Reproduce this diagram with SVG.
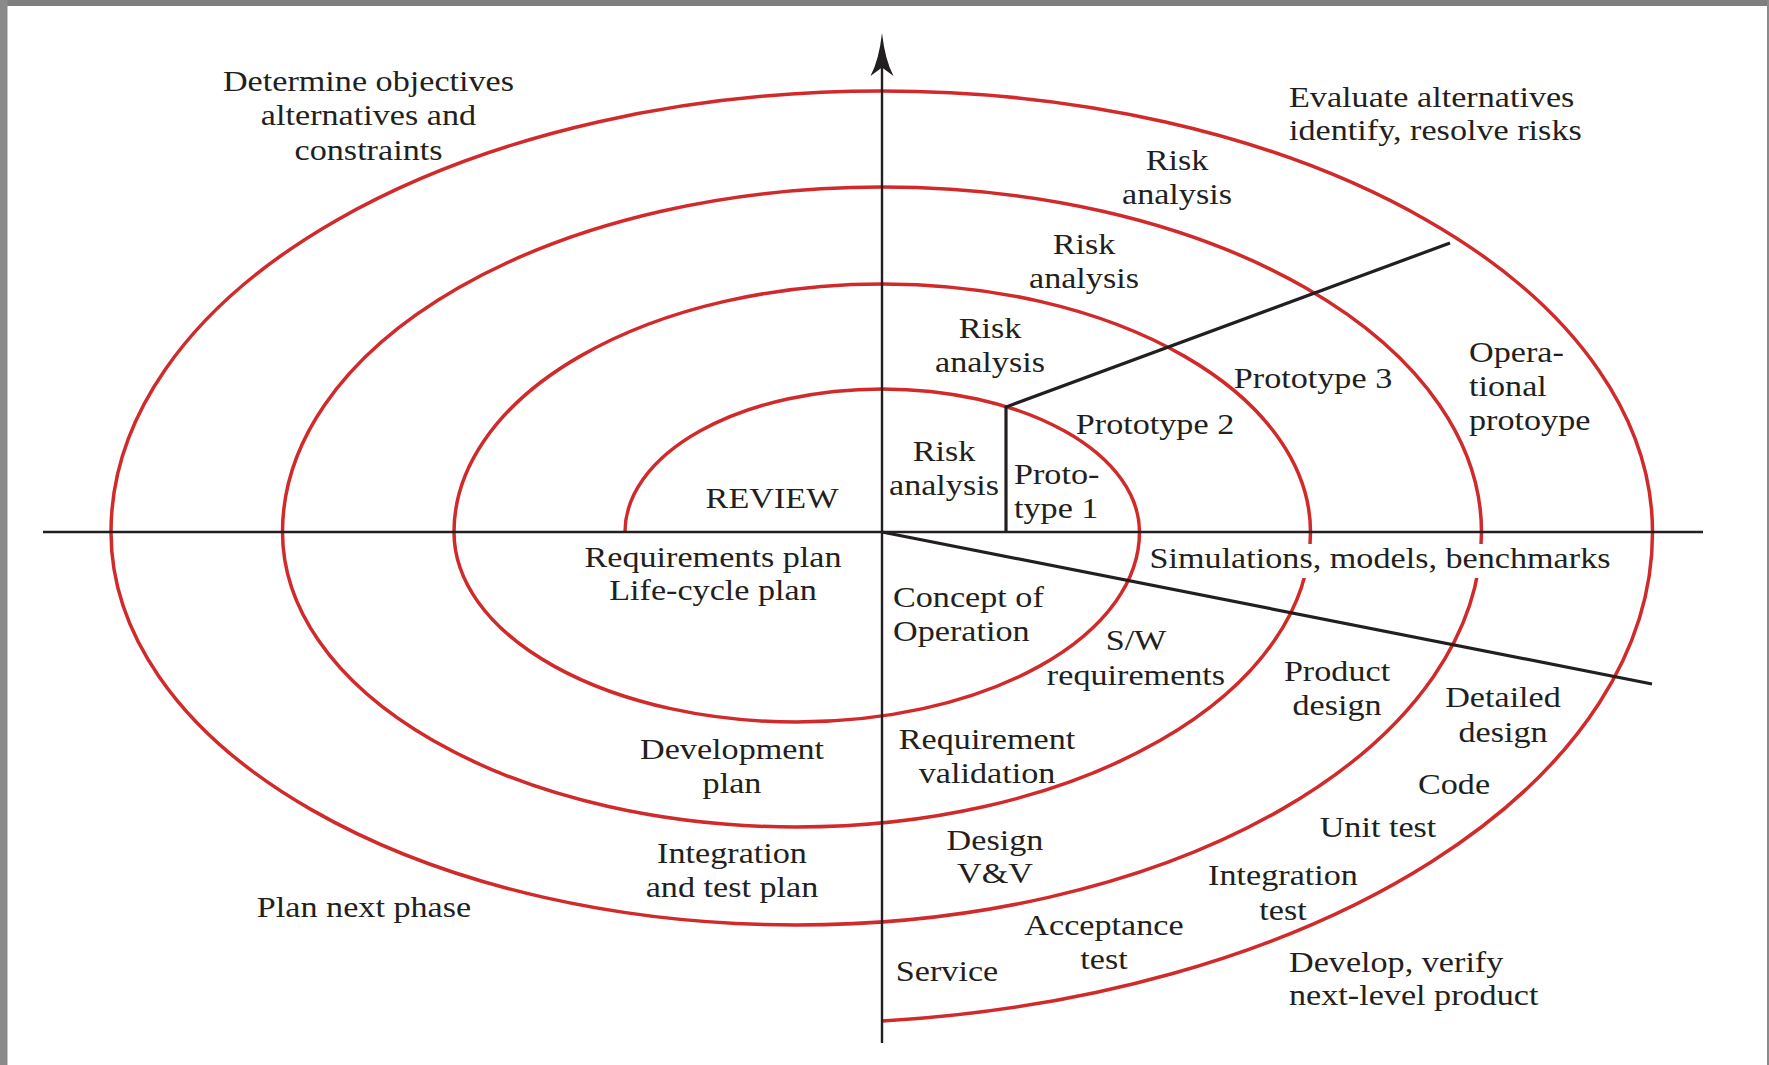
<svg xmlns="http://www.w3.org/2000/svg" width="1769" height="1065" viewBox="0 0 1769 1065">
<style>
text{font-family:"Liberation Serif","Times New Roman",serif;font-size:30.5px;fill:#231f20}
.m{text-anchor:middle}
.s{text-anchor:start}
.spiral{fill:none;stroke:#d12a2b;stroke-width:3.5}
.axis{fill:none;stroke:#231f20;stroke-width:2.4}
.div{fill:none;stroke:#231f20;stroke-width:3.2}
</style>
<rect x="0" y="0" width="1769" height="1065" fill="#ffffff"/>
<g id="frame">
<rect x="0" y="0" width="1769" height="6" fill="#7e7e7e"/>
<rect x="0" y="0" width="7.5" height="1065" fill="#8a8a8a"/>
<rect x="1767" y="0" width="2" height="1065" fill="#8a8a8a"/>
</g>
<g id="connectors">
<path id="spiral" class="spiral" d="M625,532 A257,143 0 0 1 1139.5,532 A342.75,190 0 0 1 454,532 A428.25,248 0 0 1 1310.5,532 A514,295 0 0 1 282.5,532 A599.5,345 0 0 1 1481.5,532 A685.25,393 0 0 1 111,532 A770.75,441 0 0 1 1652.5,532 A856,491 0 0 1 882,1021"/>
<line id="x-axis" class="axis" x1="43" y1="532" x2="1703" y2="532"/>
<line id="y-axis" class="axis" x1="882" y1="1043" x2="882" y2="60"/>
<path id="arrowhead" d="M882,33 Q879,60 870.5,76 L882,67.5 L893.5,76 Q885,60 882,33 Z" fill="#231f20"/>
<polyline id="prototype-divider" class="div" points="1006,532 1006,407 1450,243"/>
<line id="product-divider" class="div" x1="882" y1="532" x2="1652" y2="684"/>
</g>
<rect x="1148" y="544" width="464" height="34" fill="#ffffff"/>
<g id="q-determine"><text class="m" transform="translate(368.5,91) scale(1.12 1)"><tspan x="0" y="0">Determine objectives</tspan><tspan x="0" y="34.5">alternatives and</tspan><tspan x="0" y="69">constraints</tspan></text></g>
<g id="q-evaluate"><text class="s" transform="translate(1289,107) scale(1.12 1)"><tspan x="0" y="0">Evaluate alternatives</tspan><tspan x="0" y="33">identify, resolve risks</tspan></text></g>
<g id="q-develop"><text class="s" transform="translate(1289,972) scale(1.12 1)"><tspan x="0" y="0">Develop, verify</tspan><tspan x="0" y="33">next-level product</tspan></text></g>
<g id="q-plan"><text class="m" transform="translate(364,917) scale(1.12 1)">Plan next phase</text></g>
<g id="risk-4"><text class="m" transform="translate(1177,170) scale(1.12 1)"><tspan x="0" y="0">Risk</tspan><tspan x="0" y="34">analysis</tspan></text></g>
<g id="risk-3"><text class="m" transform="translate(1084,254) scale(1.12 1)"><tspan x="0" y="0">Risk</tspan><tspan x="0" y="34">analysis</tspan></text></g>
<g id="risk-2"><text class="m" transform="translate(990,338) scale(1.12 1)"><tspan x="0" y="0">Risk</tspan><tspan x="0" y="34">analysis</tspan></text></g>
<g id="risk-1"><text class="m" transform="translate(944,461) scale(1.12 1)"><tspan x="0" y="0">Risk</tspan><tspan x="0" y="34">analysis</tspan></text></g>
<g id="review"><text class="m" transform="translate(772,508) scale(1.12 1)">REVIEW</text></g>
<g id="prototype-1"><text class="s" transform="translate(1014,484) scale(1.12 1)"><tspan x="0" y="0">Proto-</tspan><tspan x="0" y="34">type 1</tspan></text></g>
<g id="prototype-2"><text class="m" transform="translate(1155,434) scale(1.12 1)">Prototype 2</text></g>
<g id="prototype-3"><text class="m" transform="translate(1313,388) scale(1.12 1)">Prototype 3</text></g>
<g id="operational"><text class="s" transform="translate(1469,362) scale(1.12 1)"><tspan x="0" y="0">Opera-</tspan><tspan x="0" y="34">tional</tspan><tspan x="0" y="68">protoype</tspan></text></g>
<g id="simulations"><text class="m" transform="translate(1380,568) scale(1.12 1)">Simulations, models, benchmarks</text></g>
<g id="req-plan"><text class="m" transform="translate(713,567) scale(1.12 1)"><tspan x="0" y="0">Requirements plan</tspan><tspan x="0" y="33.5">Life-cycle plan</tspan></text></g>
<g id="concept"><text class="s" transform="translate(893,607) scale(1.12 1)"><tspan x="0" y="0">Concept of</tspan><tspan x="0" y="34">Operation</tspan></text></g>
<g id="sw-req"><text class="m" transform="translate(1136,650) scale(1.12 1)"><tspan x="0" y="0">S/W</tspan><tspan x="0" y="35">requirements</tspan></text></g>
<g id="product-design"><text class="m" transform="translate(1337,681) scale(1.12 1)"><tspan x="0" y="0">Product</tspan><tspan x="0" y="34">design</tspan></text></g>
<g id="detailed-design"><text class="m" transform="translate(1503,707) scale(1.12 1)"><tspan x="0" y="0">Detailed</tspan><tspan x="0" y="35">design</tspan></text></g>
<g id="code"><text class="m" transform="translate(1454,794) scale(1.12 1)">Code</text></g>
<g id="unit-test"><text class="m" transform="translate(1378,837) scale(1.12 1)">Unit test</text></g>
<g id="integration-test"><text class="m" transform="translate(1283,885) scale(1.12 1)"><tspan x="0" y="0">Integration</tspan><tspan x="0" y="35">test</tspan></text></g>
<g id="acceptance-test"><text class="m" transform="translate(1104,935) scale(1.12 1)"><tspan x="0" y="0">Acceptance</tspan><tspan x="0" y="34">test</tspan></text></g>
<g id="service"><text class="m" transform="translate(947,981) scale(1.12 1)">Service</text></g>
<g id="design-vv"><text class="m" transform="translate(995,850) scale(1.12 1)"><tspan x="0" y="0">Design</tspan><tspan x="0" y="33">V&amp;V</tspan></text></g>
<g id="req-validation"><text class="m" transform="translate(987,749) scale(1.12 1)"><tspan x="0" y="0">Requirement</tspan><tspan x="0" y="34">validation</tspan></text></g>
<g id="dev-plan"><text class="m" transform="translate(732,759) scale(1.12 1)"><tspan x="0" y="0">Development</tspan><tspan x="0" y="34">plan</tspan></text></g>
<g id="int-test-plan"><text class="m" transform="translate(732,863) scale(1.12 1)"><tspan x="0" y="0">Integration</tspan><tspan x="0" y="34">and test plan</tspan></text></g>
</svg>
